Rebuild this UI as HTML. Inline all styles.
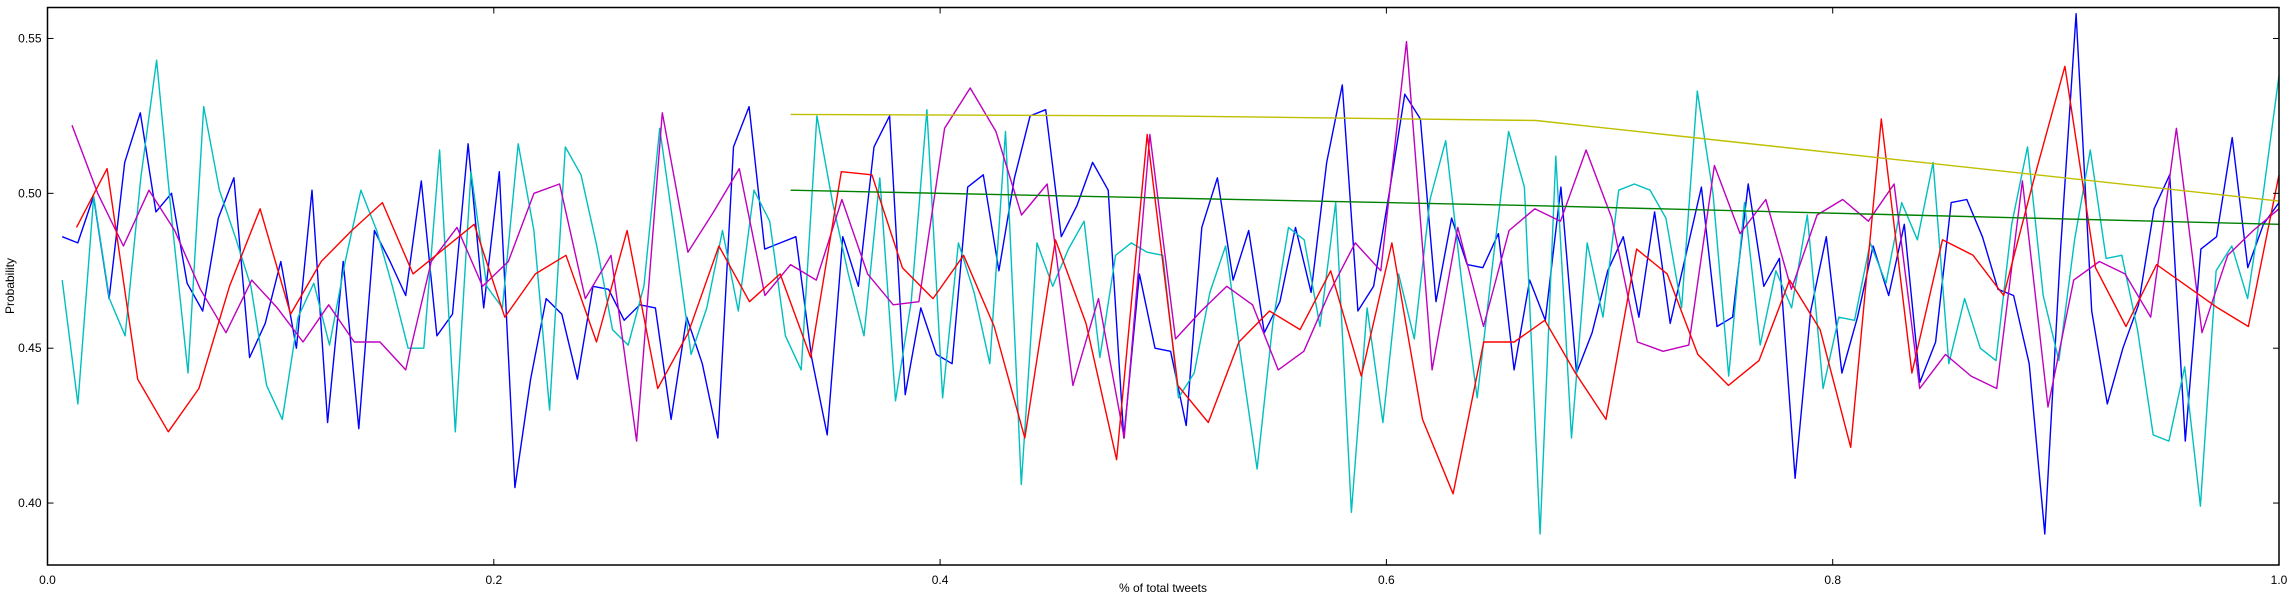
<!DOCTYPE html>
<html><head><meta charset="utf-8"><style>
html,body{margin:0;padding:0;background:#fff;}
svg{display:block;font-family:"Liberation Sans",sans-serif;}
</style></head><body>
<svg id="chart" width="2293" height="601" xmlns="http://www.w3.org/2000/svg">
<rect x="0" y="0" width="2293" height="601" fill="#fff"/>
<g id="series"></g>
<rect x="47.5" y="7.5" width="2231.5" height="557.5" fill="none" stroke="#000" stroke-width="1.5"/>
<g id="axes"></g>
<text x="1163" y="592" font-size="12" text-anchor="middle">% of total tweets</text>
<text transform="translate(14,286) rotate(-90)" font-size="12" text-anchor="middle">Probability</text>
</svg>
<script>
const xTicks = [0.0, 0.2, 0.4, 0.6, 0.8, 1.0];
const xTickLabels = ["0.0", "0.2", "0.4", "0.6", "0.8", "1.0"];
const yTicks = [0.40, 0.45, 0.50, 0.55];
const yTickLabels = ["0.40", "0.45", "0.50", "0.55"];

const blueValues = [.486,.484,.499,.466,.510,.526,.494,.500,.471,.462,.492,.505,.447,.458,.478,.450,.501,.426,.478,.424,.488,.478,.467,.504,.454,.461,.516,.463,.507,.405,.440,.466,.461,.440,.470,.469,.459,.464,.463,.427,.460,.445,.421,.515,.528,.482,.484,.486,.447,.422,.486,.470,.515,.525,.435,.463,.448,.445,.502,.506,.475,.505,.525,.527,.486,.496,.510,.501,
.421,.474,.450,.449,.425,.489,.505,.472,.488,.455,.465,.489,.468,.510,.535,.462,.470,.500,.532,.524,.465,.492,.477,.476,.487,.443,.472,.459,.502,.442,.455,.475,.486,.460,.494,.458,.480,.502,.457,.460,.503,.470,.479,.408,.462,.486,.442,.460,.483,.467,.490,.439,.452,.497,.498,.486,.469,.467,.445,.390,.481,.558,.462,.432,.450,.464,.495,.506,.420,.482,.486,.518,.476,.490,.497];
const blueStart = 0.0066;

const cyanValues = [.472,.432,.499,.466,.454,.505,.543,.490,.442,.528,.501,.486,.470,.438,.427,.460,.471,.451,.478,.501,.488,.470,.450,.450,.514,.423,.507,.470,.463,.516,.488,.430,.515,.506,.483,.456,.451,.470,.521,.485,.448,.463,.488,.462,.501,.491,.454,.443,.525,.497,.474,.454,.505,.433,.465,.527,.434,.484,.468,.445,.520,.406,.484,.470,.482,.491,.447,.480,.484,.481,.480,.434,.442,.468,.483,.446,.411,.458,.489,.485,.457,.497,.397,.463,.426,.474,.453,.498,.517,.472,.434,.478,.520,.502,.390,.512,.421,.484,.460,.501,.503,.501,.492,.463,.533,.500,.441,.497,.451,.475,.463,.493,.437,.460,.459,.484,.471,.497,.485,.510,.445,.466,.450,.446,.490,.515,.467,.446,.485,.514,.479,.480,.456,.422,.420,.444,.399,.475,.483,.466,.500,.538];
const cyanStart = 0.0066;

const magentaValues = [.522,.500,.483,.501,.488,.469,.455,.472,.463,.452,.464,.452,.452,.443,.478,.489,.470,.478,.500,.503,.466,.480,.420,.526,.481,.494,.508,.467,.477,.472,.498,.474,.464,.465,.521,.534,.520,.493,.503,.438,.466,.421,.519,.453,.462,.470,.464,.443,.449,.468,.484,.475,.549,.443,.489,.457,.488,.495,.491,.514,.492,.452,.449,.451,.509,.487,.498,.469,.493,.498,.491,.503,.437,.448,.441,.437,.504,.431,.472,.478,.474,.460,.521,.455,.480,.488,.495];
const magentaStart = 0.011;

const redValues = [.489,.508,.440,.423,.437,.470,.495,.461,.478,.488,.497,.474,.482,.490,.460,.474,.480,.452,.488,.437,.455,.483,.465,.474,.447,.507,.506,.476,.466,.480,.457,.421,.485,.458,.414,.519,.438,.426,.452,.462,.456,.475,.441,.484,.427,.403,.452,.452,.459,.442,.427,.482,.474,.448,.438,.446,.472,.456,.418,.524,.442,.485,.480,.467,.505,.541,.476,.457,.477,.470,.463,.457,.506];
const redStart = 0.013;

const greenX = [0.333, 0.5, 0.667, 0.833, 1.0];
const greenValues = [0.501, 0.4985, 0.496, 0.493, 0.490];
const yellowX = [0.333, 0.5, 0.667, 1.0];
const yellowValues = [0.5255, 0.525, 0.5235, 0.4975];

const L = 47.5, R = 2279, T = 7.5, B = 565;
const X0 = 0, X1 = 1, Y0 = 0.38, Y1 = 0.56;
function xs(v){ return L + (v - X0) / (X1 - X0) * (R - L); }
function ys(v){ return B - (v - Y0) / (Y1 - Y0) * (B - T); }
const NS = "http://www.w3.org/2000/svg";
const sg = document.getElementById('series');
const ag = document.getElementById('axes');

function drawLine(xvals, yvals, color, name){
  const p = document.createElementNS(NS, 'polyline');
  p.setAttribute('points', xvals.map((x, i) => xs(x).toFixed(1) + ',' + ys(yvals[i]).toFixed(1)).join(' '));
  p.setAttribute('fill', 'none');
  p.setAttribute('stroke', color);
  p.setAttribute('stroke-width', '1.4');
  p.setAttribute('stroke-linejoin', 'round');
  
  
  sg.appendChild(p);
}
function evenX(values, start){
  const n = values.length;
  return values.map((_, i) => start + i * (1 - start) / (n - 1));
}
drawLine(evenX(blueValues, blueStart), blueValues, '#0000ff', 'blue-series-line');
drawLine(evenX(cyanValues, cyanStart), cyanValues, '#00bfbf', 'cyan-series-line');
drawLine(evenX(magentaValues, magentaStart), magentaValues, '#bf00bf', 'magenta-series-line');
drawLine(evenX(redValues, redStart), redValues, '#ff0000', 'red-series-line');
drawLine(greenX, greenValues, '#008000', 'green-series-line');
drawLine(yellowX, yellowValues, '#bfbf00', 'yellow-series-line');

function mk(tag, attrs){ const e = document.createElementNS(NS, tag); for (const k in attrs) e.setAttribute(k, attrs[k]); return e; }
xTicks.forEach((t, i) => {
  const x = xs(t);
  const a = mk('line', {x1:x, x2:x, y1:B, y2:B-6, stroke:'#000', 'stroke-width':1});
  
  
  ag.appendChild(a);
  const b = mk('line', {x1:x, x2:x, y1:T, y2:T+6, stroke:'#000', 'stroke-width':1});
  
  
  ag.appendChild(b);
  const tx = mk('text', {x:x, y:B+19, 'font-size':12, 'text-anchor':'middle'});
  tx.textContent = xTickLabels[i];
  
  
  ag.appendChild(tx);
});
yTicks.forEach((t, i) => {
  const y = ys(t);
  const a = mk('line', {x1:L, x2:L+6, y1:y, y2:y, stroke:'#000', 'stroke-width':1});
  
  
  ag.appendChild(a);
  const b = mk('line', {x1:R, x2:R-6, y1:y, y2:y, stroke:'#000', 'stroke-width':1});
  
  
  ag.appendChild(b);
  const tx = mk('text', {x:L-6, y:y+4, 'font-size':12, 'text-anchor':'end'});
  tx.textContent = yTickLabels[i];
  
  
  ag.appendChild(tx);
});
</script>
</body></html>
